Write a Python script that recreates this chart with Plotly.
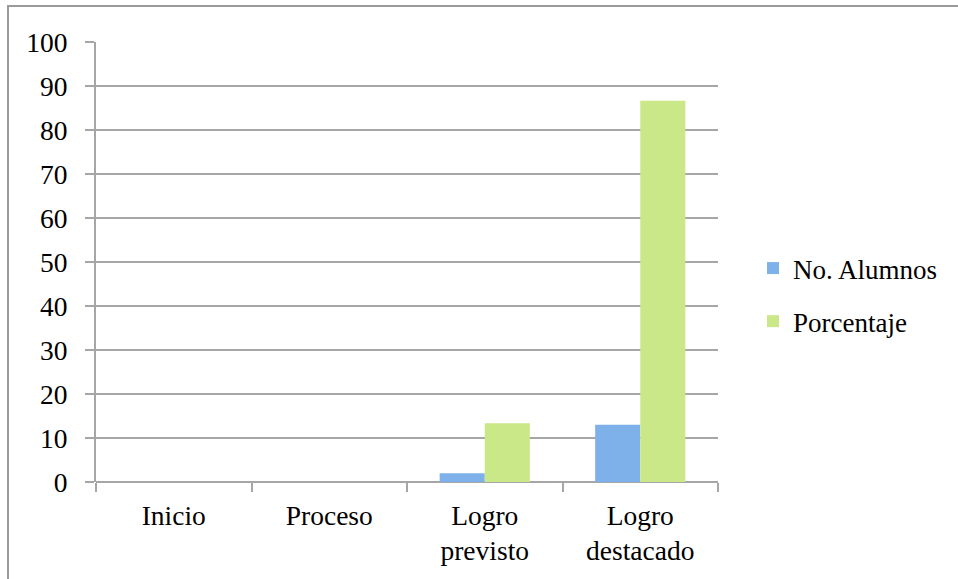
import plotly.graph_objects as go

categories = ["Inicio", "Proceso", "Logro<br>previsto", "Logro<br>destacado"]
alumnos = [0, 0, 2, 13]
porcentaje = [0, 0, 13.33, 86.67]
y_ticks = [0, 10, 20, 30, 40, 50, 60, 70, 80, 90, 100]

FONT = "Liberation Serif, DejaVu Serif, serif"
GRID = "#a6a6a6"

L, R, T, B = 96, 718, 42, 482
W, H = 958, 579
def px_x(p):
    return (p - L) / (R - L)
def px_y(p):
    return (B - p) / (B - T)

fig = go.Figure()
fig.add_trace(go.Bar(name="No. Alumnos", x=categories, y=alumnos,
                     marker=dict(color="#7eb1ea", line=dict(width=0)),
                     legendgroup="a"))
fig.add_trace(go.Bar(name="Porcentaje", x=categories, y=porcentaje,
                     marker=dict(color="#cbe889", line=dict(width=0)),
                     legendgroup="b"))

fig.update_layout(
    width=W, height=H,
    margin=dict(l=L, r=W - R, t=T, b=H - B),
    paper_bgcolor="white", plot_bgcolor="white",
    barmode="group", bargap=0.42, bargroupgap=0,
    font=dict(family=FONT, size=27.5, color="#000"),
    legend=dict(x=px_x(753), y=px_y(295), xanchor="left", yanchor="middle",
                font=dict(family=FONT, size=27), tracegroupgap=15,
                itemwidth=30, bgcolor="rgba(0,0,0,0)"),
    xaxis=dict(showgrid=False, tickson="boundaries", ticks="outside",
               ticklen=9, tickcolor=GRID, tickwidth=2, showline=False,
               tickfont=dict(family=FONT, size=27.5), ticklabelstandoff=14),
    yaxis=dict(range=[0, 100], tickvals=y_ticks, showgrid=True,
               gridcolor=GRID, gridwidth=2, showline=True, linecolor=GRID,
               linewidth=2, ticks="outside", ticklen=9, tickcolor=GRID,
               tickwidth=2, zeroline=True, zerolinecolor=GRID, zerolinewidth=2,
               tickfont=dict(family=FONT, size=27.5), ticklabelstandoff=12),
    shapes=[dict(type="rect", xref="paper", yref="paper",
                 x0=px_x(8), x1=px_x(990),
                 y0=px_y(620), y1=px_y(6),
                 line=dict(color="#9a9a9a", width=2), layer="below")],
)

fig.write_html("out.html")
